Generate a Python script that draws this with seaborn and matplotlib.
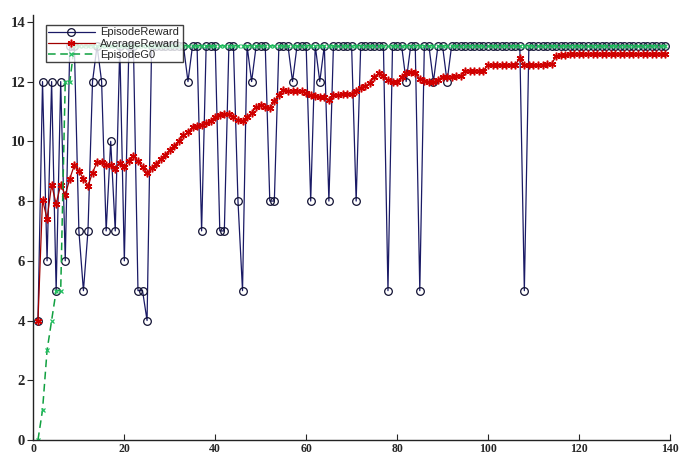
import numpy as np
import pandas as pd
import seaborn as sns
import matplotlib.pyplot as plt

# episode index
episodes = list(range(1, 140))

# reward of each episode
episode_reward = [
    4, 12, 6, 12, 5, 12, 6, 13.2, 13.2, 7,
    5, 7, 12, 13.2, 12, 7, 10, 7, 13.2, 6,
    13.2, 13.2, 5, 5, 4, 13.2, 13.2, 13.2, 13.2, 13.2,
    13.2, 13.2, 13.2, 12, 13.2, 13.2, 7, 13.2, 13.2, 13.2,
    7, 7, 13.2, 13.2, 8, 5, 13.2, 12, 13.2, 13.2,
    13.2, 8, 8, 13.2, 13.2, 13.2, 12, 13.2, 13.2, 13.2,
    8, 13.2, 12, 13.2, 8, 13.2, 13.2, 13.2, 13.2, 13.2,
    8, 13.2, 13.2, 13.2, 13.2, 13.2, 13.2, 5, 13.2, 13.2,
    13.2, 12, 13.2, 13.2, 5, 13.2, 13.2, 12, 13.2, 13.2,
    12, 13.2, 13.2, 13.2, 13.2, 13.2, 13.2, 13.2, 13.2, 13.2,
    13.2, 13.2, 13.2, 13.2, 13.2, 13.2, 13.2, 5, 13.2, 13.2,
    13.2, 13.2, 13.2, 13.2, 13.2, 13.2, 13.2, 13.2, 13.2, 13.2,
    13.2, 13.2, 13.2, 13.2, 13.2, 13.2, 13.2, 13.2, 13.2, 13.2,
    13.2, 13.2, 13.2, 13.2, 13.2, 13.2, 13.2, 13.2, 13.2,
]

# running average reward
average_reward = [
    4.0, 8.05, 7.4, 8.55, 7.9, 8.55, 8.2, 8.75, 9.2, 9.0,
    8.75, 8.5, 8.95, 9.3, 9.3, 9.2, 9.2, 9.08, 9.27, 9.14,
    9.33, 9.52, 9.33, 9.15, 8.93, 9.1, 9.25, 9.4, 9.55, 9.7,
    9.85, 10.0, 10.2, 10.3, 10.48, 10.52, 10.56, 10.6, 10.68, 10.8,
    10.87, 10.92, 10.9, 10.8, 10.72, 10.68, 10.8, 10.95, 11.15, 11.2,
    11.15, 11.1, 11.35, 11.55, 11.72, 11.7, 11.7, 11.7, 11.68, 11.62,
    11.55, 11.52, 11.5, 11.48, 11.38, 11.55, 11.56, 11.57, 11.58, 11.59,
    11.7, 11.8, 11.85, 11.95, 12.15, 12.28, 12.2, 12.04, 12.0, 11.98,
    12.15, 12.28, 12.32, 12.3, 12.08, 12.02, 12.0, 11.98, 12.05, 12.17,
    12.17, 12.17, 12.18, 12.2, 12.37, 12.37, 12.37, 12.37, 12.37, 12.54,
    12.55, 12.55, 12.55, 12.55, 12.56, 12.56, 12.78, 12.55, 12.55, 12.55,
    12.56, 12.57, 12.58, 12.6, 12.85, 12.88, 12.9, 12.92, 12.93, 12.93,
    12.93, 12.93, 12.93, 12.93, 12.93, 12.93, 12.93, 12.93, 12.93, 12.93,
    12.93, 12.93, 12.93, 12.93, 12.93, 12.93, 12.93, 12.93, 12.93,
]

# G0 of each episode
episode_g0 = [
    0, 1, 3, 4, 5, 5, 12, 12, 13.2, 13.2,
    13.2, 13.2, 13.2, 13.2, 13.2, 13.2, 13.2, 13.2, 13.2, 13.2,
    13.2, 13.2, 13.2, 13.2, 13.2, 13.2, 13.2, 13.2, 13.2, 13.2,
    13.2, 13.2, 13.2, 13.2, 13.2, 13.2, 13.2, 13.2, 13.2, 13.2,
    13.2, 13.2, 13.2, 13.2, 13.2, 13.2, 13.2, 13.2, 13.2, 13.2,
    13.2, 13.2, 13.2, 13.2, 13.2, 13.2, 13.2, 13.2, 13.2, 13.2,
    13.2, 13.2, 13.2, 13.2, 13.2, 13.2, 13.2, 13.2, 13.2, 13.2,
    13.2, 13.2, 13.2, 13.2, 13.2, 13.2, 13.2, 13.2, 13.2, 13.2,
    13.2, 13.2, 13.2, 13.2, 13.2, 13.2, 13.2, 13.2, 13.2, 13.2,
    13.2, 13.2, 13.2, 13.2, 13.2, 13.2, 13.2, 13.2, 13.2, 13.2,
    13.2, 13.2, 13.2, 13.2, 13.2, 13.2, 13.2, 13.2, 13.2, 13.2,
    13.2, 13.2, 13.2, 13.2, 13.2, 13.2, 13.2, 13.2, 13.2, 13.2,
    13.2, 13.2, 13.2, 13.2, 13.2, 13.2, 13.2, 13.2, 13.2, 13.2,
    13.2, 13.2, 13.2, 13.2, 13.2, 13.2, 13.2, 13.2, 13.2,
]

xticks = [0, 20, 40, 60, 80, 100, 120, 140]
yticks = [0, 2, 4, 6, 8, 10, 12, 14]

df = pd.DataFrame({
    "Episode": episodes,
    "EpisodeReward": episode_reward,
    "AverageReward": average_reward,
    "EpisodeG0": episode_g0,
})

sns.set_style("ticks")
plt.rcParams["font.family"] = ["Liberation Sans", "DejaVu Sans"]

fig = plt.figure(figsize=(6.85, 4.58), dpi=100)
ax = fig.add_axes([0.0488, 0.0393, 0.929, 0.928])

sns.lineplot(data=df, x="Episode", y="EpisodeReward", ax=ax,
             color="#1a1a66", linewidth=0.9, marker="o", markersize=5.5,
             markerfacecolor="none", markeredgecolor="#111133",
             markeredgewidth=0.9, label="EpisodeReward")
sns.lineplot(data=df, x="Episode", y="AverageReward", ax=ax,
             color="#a00000", linewidth=0.9, marker=(6, 2, 0), markersize=5.5,
             markeredgecolor="#d00000", markeredgewidth=1.1,
             label="AverageReward")
sns.lineplot(data=df, x="Episode", y="EpisodeG0", ax=ax,
             color="#10a040", linewidth=1.1, linestyle=(0, (5, 3)),
             marker="x", markersize=3.5, markeredgecolor="#20c060",
             markeredgewidth=0.9, label="EpisodeG0")

ax.set_xlim(0, 140)
ax.set_ylim(0, 14.23)
ax.set_xticks(xticks)
ax.set_yticks(yticks)
ax.set_xlabel("")
ax.set_ylabel("")
ax.tick_params(axis="x", direction="in", length=4, pad=2, labelsize=8.5)
ax.tick_params(axis="y", direction="out", length=4, pad=2, labelsize=10.5)
for lab in ax.get_xticklabels() + ax.get_yticklabels():
    lab.set_fontfamily(["Liberation Serif", "DejaVu Serif"])
    lab.set_fontweight("bold")
sns.despine(ax=ax)
for sp in ["left", "bottom"]:
    ax.spines[sp].set_linewidth(1.0)
    ax.spines[sp].set_color("#222222")

leg = ax.legend(loc="upper left", bbox_to_anchor=(0.0195, 0.976),
                borderaxespad=0, fontsize=8, fancybox=False,
                frameon=True, edgecolor="#111111", handlelength=4.2,
                borderpad=0.2, labelspacing=0.1, handletextpad=0.5)
leg.get_frame().set_linewidth(1.0)

fig.savefig("out.png", dpi=100)
